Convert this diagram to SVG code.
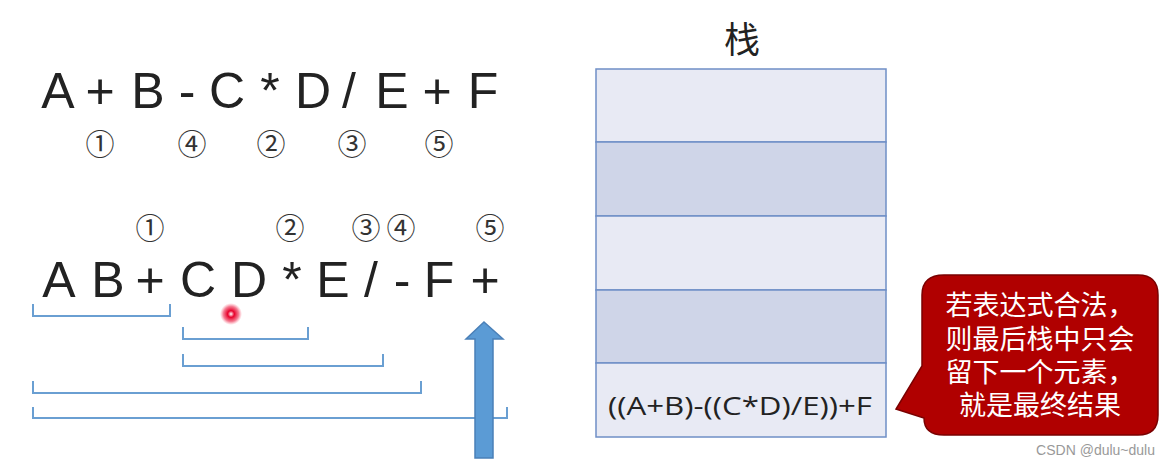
<svg xmlns="http://www.w3.org/2000/svg" width="1170" height="465" viewBox="0 0 1170 465">
<defs>
<style>
.ex{font-family:"Liberation Sans",Arial,sans-serif;font-size:50px;fill:#222;text-anchor:middle}
.cn{font-family:"Noto Sans CJK SC","DejaVu Sans",sans-serif;font-size:29px;fill:#333;text-anchor:middle}
.br{fill:none;stroke:#6a9fd2;stroke-width:2}
.lt{fill:#e8eaf4;stroke:#6f8fc6;stroke-width:1.5}
.dk{fill:#cfd5e8;stroke:#6f8fc6;stroke-width:1.5}
.ct{font-family:"Noto Sans CJK SC",sans-serif;font-size:27px;fill:#fff;text-anchor:middle}
</style>
<radialGradient id="dot">
<stop offset="0" stop-color="#fff"/>
<stop offset="0.3" stop-color="#e8002a"/>
<stop offset="0.7" stop-color="#e8002a" stop-opacity="0.5"/>
<stop offset="1" stop-color="#ff4060" stop-opacity="0"/>
</radialGradient>
</defs>
<rect width="1170" height="465" fill="#fff"/>

<g id="infix">
<text class="ex" x="58" y="108">A</text>
<text class="ex" x="100" y="108">+</text>
<text class="ex" x="148" y="108">B</text>
<text class="ex" x="187" y="108">-</text>
<text class="ex" x="227" y="108">C</text>
<text class="ex" x="270" y="108">*</text>
<text class="ex" x="313" y="108">D</text>
<text class="ex" x="349" y="108">/</text>
<text class="ex" x="392" y="108">E</text>
<text class="ex" x="437" y="108">+</text>
<text class="ex" x="483" y="108">F</text>
</g>
<g id="infix-order">
<text class="cn" x="100" y="155">①</text>
<text class="cn" x="192" y="155">④</text>
<text class="cn" x="271" y="155">②</text>
<text class="cn" x="352" y="155">③</text>
<text class="cn" x="439" y="155">⑤</text>
</g>

<g id="postfix-order">
<text class="cn" x="150" y="239">①</text>
<text class="cn" x="290" y="239">②</text>
<text class="cn" x="366" y="239">③</text>
<text class="cn" x="401" y="239">④</text>
<text class="cn" x="490" y="239">⑤</text>
</g>
<g id="postfix">
<text class="ex" x="59" y="297">A</text>
<text class="ex" x="108" y="297">B</text>
<text class="ex" x="150" y="297">+</text>
<text class="ex" x="198" y="297">C</text>
<text class="ex" x="249" y="297">D</text>
<text class="ex" x="292" y="297">*</text>
<text class="ex" x="333" y="297">E</text>
<text class="ex" x="371" y="297">/</text>
<text class="ex" x="402" y="297">-</text>
<text class="ex" x="439" y="297">F</text>
<text class="ex" x="485" y="297">+</text>
</g>

<g id="brackets">
<path class="br" d="M33 304V316H170V304"/>
<path class="br" d="M183 327V339H308V327"/>
<path class="br" d="M183 354V366H383V354"/>
<path class="br" d="M33 381V393H421V381"/>
<path class="br" d="M33 407V418H507V407"/>
</g>

<g id="arrow">
<path d="M484 322L503 339H493V458H475V339H466Z" fill="#5b9bd5" stroke="#4a80b8" stroke-width="1.5"/>
</g>

<circle id="pointer" cx="231" cy="314" r="11" fill="url(#dot)"/>

<g id="stack">
<text x="742" y="53" font-family="Noto Sans CJK SC,sans-serif" font-size="36" fill="#222" text-anchor="middle">栈</text>
<rect class="lt" x="596" y="69" width="290" height="73"/>
<rect class="dk" x="596" y="142" width="290" height="74"/>
<rect class="lt" x="596" y="216" width="290" height="74"/>
<rect class="dk" x="596" y="290" width="290" height="73"/>
<rect class="lt" x="596" y="363" width="290" height="74"/>
<text x="740" y="415" font-family="Open Sans,Liberation Sans,sans-serif" font-size="26" fill="#222" text-anchor="middle" textLength="264" lengthAdjust="spacingAndGlyphs">((A+B)-((C*D)/E))+F</text>
</g>

<g id="callout">
<path d="M944 275H1138Q1158 275 1158 295V415Q1158 435 1138 435H944Q924 435 924 418L896 409L922 366V295Q922 275 944 275Z" fill="#b00000" stroke="#7a0000" stroke-width="1.5"/>
<text class="ct"><tspan x="1040" y="315">若表达式合法，</tspan><tspan x="1040" y="349">则最后栈中只会</tspan><tspan x="1040" y="382">留下一个元素，</tspan><tspan x="1040" y="415">就是最终结果</tspan></text>
</g>

<text x="1155" y="455" font-family="Liberation Sans,sans-serif" font-size="14" fill="#999" text-anchor="end">CSDN @dulu~dulu</text>
</svg>
